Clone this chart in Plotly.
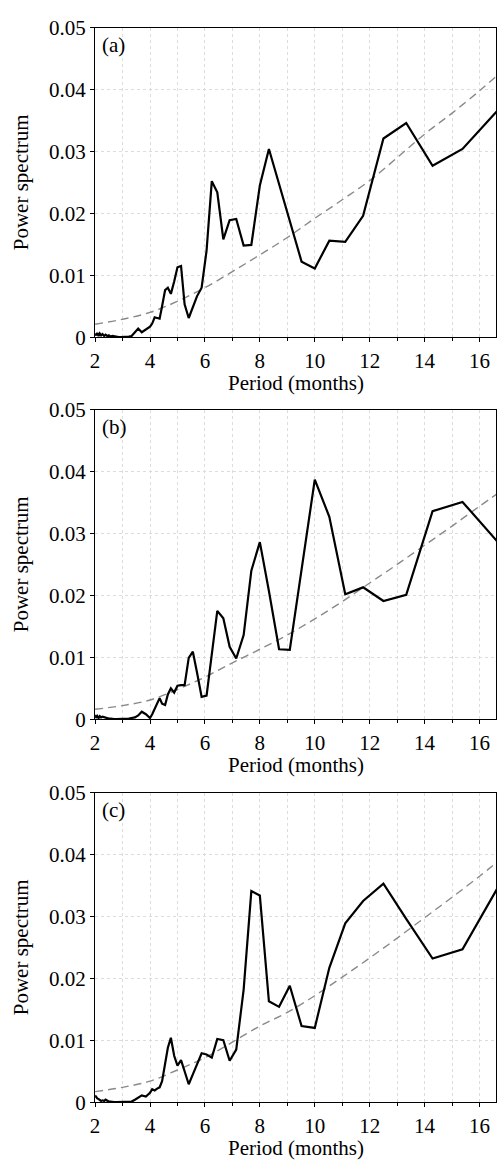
import plotly.graph_objects as go

# Periods (months) of the spectral estimates
periods = [2.00, 2.04, 2.08, 2.13, 2.17, 2.22, 2.27, 2.33, 2.38, 2.44, 2.50, 2.56, 2.63, 2.70,
           2.78, 2.86, 2.94, 3.03, 3.13, 3.23, 3.33, 3.45, 3.57, 3.70, 3.85,
           4.00, 4.08, 4.17, 4.26, 4.35, 4.44, 4.55, 4.65, 4.76, 4.88, 5.00, 5.13, 5.26, 5.41,
           5.56, 5.71, 5.88, 6.06, 6.25, 6.45, 6.67, 6.90, 7.14, 7.41, 7.69, 8.00, 8.33, 8.70,
           9.09, 9.52, 10.00, 10.53, 11.11, 11.76, 12.50, 13.33, 14.29, 15.38, 16.67]

power_a = [0.0006, 0.0003, 0.0007, 0.0002, 0.0006, 0.0003, 0.0005, 0.0002, 0.0004, 0.0002, 0.0003,
           0.0001, 0.0002, 0.0001, 0.0001, 0.0, 0.0, 0.0, 0.0, 0.0001, 0.0002, 0.0008, 0.0014, 0.0008,
           0.0013,
           0.0017, 0.0022, 0.0032, 0.0031, 0.0030, 0.0050, 0.0076, 0.0080, 0.0070, 0.0090, 0.0113,
           0.0115, 0.0053, 0.0031, 0.0050, 0.0066, 0.0080, 0.0140, 0.0252, 0.0234, 0.0158, 0.0189,
           0.0191, 0.0148, 0.0149, 0.0245, 0.0304, 0.0248, 0.0190, 0.0122, 0.0111, 0.0156, 0.0154,
           0.0196, 0.0321, 0.0346, 0.0277, 0.0304, 0.0367]

power_b = [0.0007, 0.0002, 0.0005, 0.0002, 0.0005, 0.0003, 0.0004, 0.0003, 0.0003, 0.0002, 0.0001,
           0.0001, 0.0, 0.0, 0.0, 0.0, 0.0, 0.0, 0.0001, 0.0001, 0.0002, 0.0003, 0.0006, 0.0012,
           0.0008,
           0.0002, 0.0008, 0.0016, 0.0026, 0.0034, 0.0025, 0.0023, 0.0040, 0.0050, 0.0043, 0.0054,
           0.0055, 0.0055, 0.0099, 0.0109, 0.0076, 0.0036, 0.0038, 0.0103, 0.0175, 0.0163, 0.0117,
           0.0098, 0.0136, 0.0240, 0.0286, 0.0207, 0.0113, 0.0112, 0.0241, 0.0387, 0.0327, 0.0202,
           0.0213, 0.0191, 0.0201, 0.0336, 0.0351, 0.0286]

power_c = [0.0011, 0.0008, 0.0006, 0.0005, 0.0003, 0.0002, 0.0003, 0.0002, 0.0004, 0.0002, 0.0001,
           0.0001, 0.0, 0.0, 0.0, 0.0, 0.0, 0.0, 0.0, 0.0001, 0.0001, 0.0004, 0.0007, 0.0011, 0.0009,
           0.0015, 0.0021, 0.0019, 0.0022, 0.0024, 0.0034, 0.0060, 0.0088, 0.0104, 0.0075, 0.0059,
           0.0068, 0.0050, 0.0029, 0.0045, 0.0062, 0.0079, 0.0077, 0.0072, 0.0102, 0.0100, 0.0067,
           0.0085, 0.0182, 0.0341, 0.0334, 0.0163, 0.0154, 0.0188, 0.0123, 0.0120, 0.0217, 0.0289,
           0.0325, 0.0353, 0.0296, 0.0232, 0.0247, 0.0347]

# Red-noise reference spectra (dashed)
ref_periods = [2, 3, 4, 5, 6, 7, 8, 9, 10, 11, 12, 13, 14, 15, 16, 16.67]
ref_a = [0.0021, 0.0029, 0.0040, 0.0058, 0.0080, 0.0106, 0.0133, 0.0161, 0.0192, 0.0222,
         0.0253, 0.0290, 0.0328, 0.0362, 0.0398, 0.0424]
ref_b = [0.0016, 0.0022, 0.0031, 0.0048, 0.0068, 0.0091, 0.0113, 0.0136, 0.0162, 0.0190,
         0.0220, 0.0250, 0.0281, 0.0312, 0.0344, 0.0365]
ref_c = [0.0017, 0.0024, 0.0034, 0.0052, 0.0072, 0.0097, 0.0123, 0.0145, 0.0172, 0.0202,
         0.0233, 0.0265, 0.0298, 0.0331, 0.0365, 0.0389]

panel_labels = ["(a)", "(b)", "(c)"]
x_title = "Period (months)"
y_title = "Power spectrum"

W, H = 497, 1171
FONT = "Liberation Serif, Times New Roman, serif"
FS = 21
GRID = "#dcdcdc"

# pixel geometry of the three panels (top, bottom)
panels_px = [(16, 332), (406, 722), (797, 1113)]
x_left, x_right = 91, 496

fig = go.Figure()
series = [(power_a, ref_a), (power_b, ref_b), (power_c, ref_c)]

annotations = []
for i, ((top, bot), (pw, rf)) in enumerate(zip(panels_px, series)):
    n = "" if i == 0 else str(i + 1)
    xa, ya = "x" + n, "y" + n
    fig.add_trace(go.Scatter(x=ref_periods, y=rf, mode="lines", xaxis=xa, yaxis=ya,
                             line=dict(color="#8a8a8a", width=1.4, dash="8px,5px", shape="spline"),
                             showlegend=False, hoverinfo="skip"))
    fig.add_trace(go.Scatter(x=periods, y=pw, mode="lines", xaxis=xa, yaxis=ya,
                             line=dict(color="black", width=2.2),
                             showlegend=False))
    dom_y = [1 - bot / H, 1 - top / H]
    axis_common = dict(showline=True, linecolor="black", linewidth=1.3, mirror=True,
                       ticks="outside", tickcolor="black", zeroline=False,
                       tickfont=dict(family=FONT, size=FS, color="black"))
    fig.layout["xaxis" + n] = dict(
        domain=[x_left / W, x_right / W], anchor=ya, range=[2, 16.6],
        tickvals=[2, 4, 6, 8, 10, 12, 14, 16], ticklen=4,
        showgrid=True, gridcolor=GRID, griddash="dot", gridwidth=1,
        minor=dict(dtick=1, tick0=0, ticks="outside", ticklen=3, tickcolor="black",
                   showgrid=True, gridcolor=GRID, griddash="dot", gridwidth=1),
        **axis_common)
    fig.layout["yaxis" + n] = dict(
        domain=dom_y, anchor=xa, range=[0, 0.05],
        tickvals=[0, 0.01, 0.02, 0.03, 0.04, 0.05],
        ticktext=["0", "0.01", "0.02", "0.03", "0.04", "0.05"], ticklen=4,
        showgrid=True, gridcolor=GRID, griddash="dot", gridwidth=1,
        **axis_common)
    # panel label
    annotations.append(dict(text=panel_labels[i], xref=xa + " domain", yref=ya + " domain",
                            x=0.013, y=1 - 18 / (bot - top), xanchor="left", yanchor="middle",
                            showarrow=False, font=dict(family=FONT, size=FS, color="black")))
    # x title
    annotations.append(dict(text=x_title, xref="paper", yref="paper",
                            x=((x_left + x_right) / 2) / W, y=1 - (bot + 47) / H,
                            xanchor="center", yanchor="middle", showarrow=False,
                            font=dict(family=FONT, size=FS, color="black")))
    # y title
    annotations.append(dict(text=y_title, xref="paper", yref="paper",
                            x=17 / W, y=1 - ((top + bot) / 2) / H, textangle=-90,
                            xanchor="center", yanchor="middle", showarrow=False,
                            font=dict(family=FONT, size=FS, color="black")))

fig.update_layout(width=W, height=H, margin=dict(l=0, r=0, t=0, b=0),
                  paper_bgcolor="white", plot_bgcolor="white",
                  annotations=annotations, showlegend=False)

fig.write_html("out.html", config={"displayModeBar": False},
               post_script="document.body.style.margin='0px';document.body.style.overflow='hidden';")
